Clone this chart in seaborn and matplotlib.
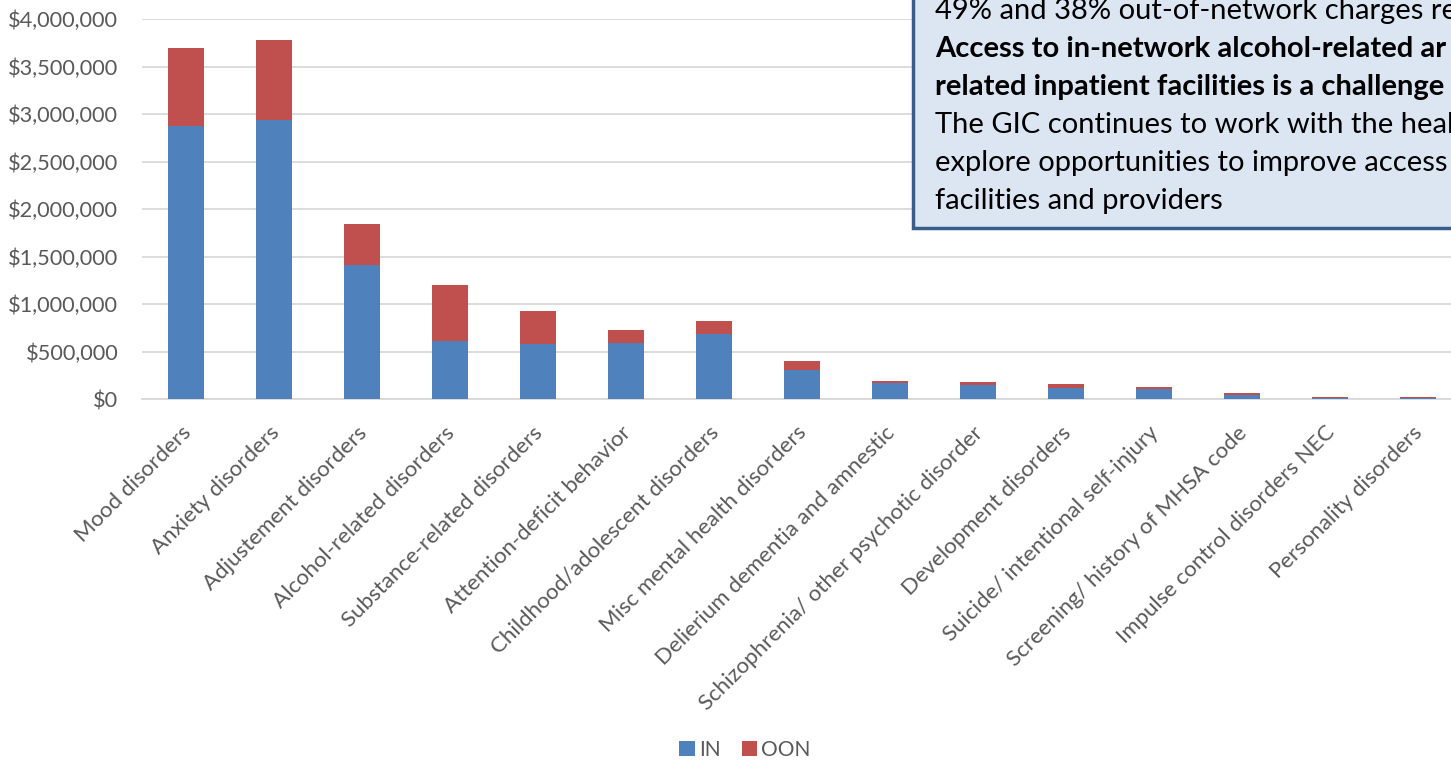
import numpy as np
import pandas as pd
import seaborn as sns
import matplotlib
matplotlib.use("Agg")
import matplotlib.pyplot as plt
from matplotlib.patches import Patch, Rectangle
from matplotlib.transforms import ScaledTranslation
from matplotlib.ticker import FuncFormatter

categories = [
    "Mood disorders", "Anxiety disorders", "Adjustement disorders",
    "Alcohol-related disorders", "Substance-related disorders",
    "Attention-deficit behavior", "Childhood/adolescent disorders",
    "Misc mental health disorders", "Delierium dementia and amnestic",
    "Schizophrenia/ other psychotic disorder", "Development disorders",
    "Suicide/ intentional self-injury", "Screening/ history of MHSA code",
    "Impulse control disorders NEC", "Personality disorders",
]
in_network = [2870000, 2940000, 1410000, 610000, 580000, 590000, 685000,
              305000, 170000, 147000, 120000, 105000, 45000, 13000, 8000]
out_network = [820000, 840000, 430000, 590000, 345000, 135000, 135000,
               95000, 20000, 33000, 35000, 21000, 18000, 6000, 17000]
y_ticks = [0, 500000, 1000000, 1500000, 2000000, 2500000, 3000000, 3500000, 4000000]
legend_labels = ["IN", "OON"]
box_lines = [
    ("49% and 38% out-of-network charges re", "normal"),
    ("Access to in-network alcohol-related ar", "bold"),
    ("related inpatient facilities is a challenge", "bold"),
    ("The GIC continues to work with the heal", "normal"),
    ("explore opportunities to improve access", "normal"),
    ("facilities and providers", "normal"),
]

BLUE = "#4F81BD"
RED = "#C0504D"
GRID = "#D9D9D9"
TXT = "#595959"

sns.set_theme(style="white")
plt.rcParams["font.family"] = ["Lato", "DejaVu Sans"]

W, H = 1451, 760
fig = plt.figure(figsize=(W / 100, H / 100), dpi=100)
ax = fig.add_axes([142 / W, 1 - 399 / H, 1 - 142 / W, (399 - 19) / H])

df = pd.DataFrame({
    "category": categories,
    "IN": in_network,
    "total": np.array(in_network) + np.array(out_network),
})

BW = 36 / 88
sns.barplot(data=df, x="category", y="total", order=categories, color=RED,
            saturation=1, width=BW, errorbar=None, linewidth=0, ax=ax, zorder=3)
sns.barplot(data=df, x="category", y="IN", order=categories, color=BLUE,
            saturation=1, width=BW, errorbar=None, linewidth=0, ax=ax, zorder=4)

ax.set_ylim(0, 4000000)
ax.set_xlim(-0.5, 14 + 33.5 / 88)
ax.set_yticks(y_ticks)
ax.yaxis.set_major_formatter(FuncFormatter(lambda v, p: "${:,.0f}".format(v)))
ax.grid(axis="y", color=GRID, linewidth=1.3, zorder=0)
ax.set_axisbelow(True)
for s in ["top", "right", "left"]:
    ax.spines[s].set_visible(False)
ax.spines["bottom"].set_color(GRID)
ax.spines["bottom"].set_linewidth(1.3)
ax.set_xlabel("")
ax.set_ylabel("")
ax.tick_params(axis="both", length=0, colors=TXT)
ax.tick_params(axis="y", labelsize=15.7, pad=17)
ax.tick_params(axis="x", labelsize=16, pad=22)

for lab in ax.get_xticklabels():
    lab.set_rotation(45)
    lab.set_ha("right")
    lab.set_va("center")
    lab.set_rotation_mode("anchor")
    lab.set_transform(lab.get_transform() + ScaledTranslation(2 / 100, 0, fig.dpi_scale_trans))

# Legend
handles = [Patch(facecolor=BLUE, edgecolor="none"), Patch(facecolor=RED, edgecolor="none")]
leg = fig.legend(handles, legend_labels, loc="center", bbox_to_anchor=(745 / W, 1 - 750 / H),
                 ncol=2, frameon=False, fontsize=15, handlelength=0.75, handleheight=0.75,
                 handletextpad=0.2, columnspacing=1.0)
for t in leg.get_texts():
    t.set_color(TXT)

# Text box
rect = Rectangle((913 / W, 1 - 228 / H), 0.5, 0.5, transform=fig.transFigure,
                 facecolor="#DCE6F2", edgecolor="#385D8A", linewidth=2.5, zorder=10)
fig.add_artist(rect)
baselines = [19, 57, 95, 133, 171, 209]
for (line, weight), yb in zip(box_lines, baselines):
    fig.text(935 / W, 1 - yb / H, line, fontsize=21, fontweight=weight, color="black",
             ha="left", va="baseline", zorder=11)

fig.savefig("out.png", dpi=100)
